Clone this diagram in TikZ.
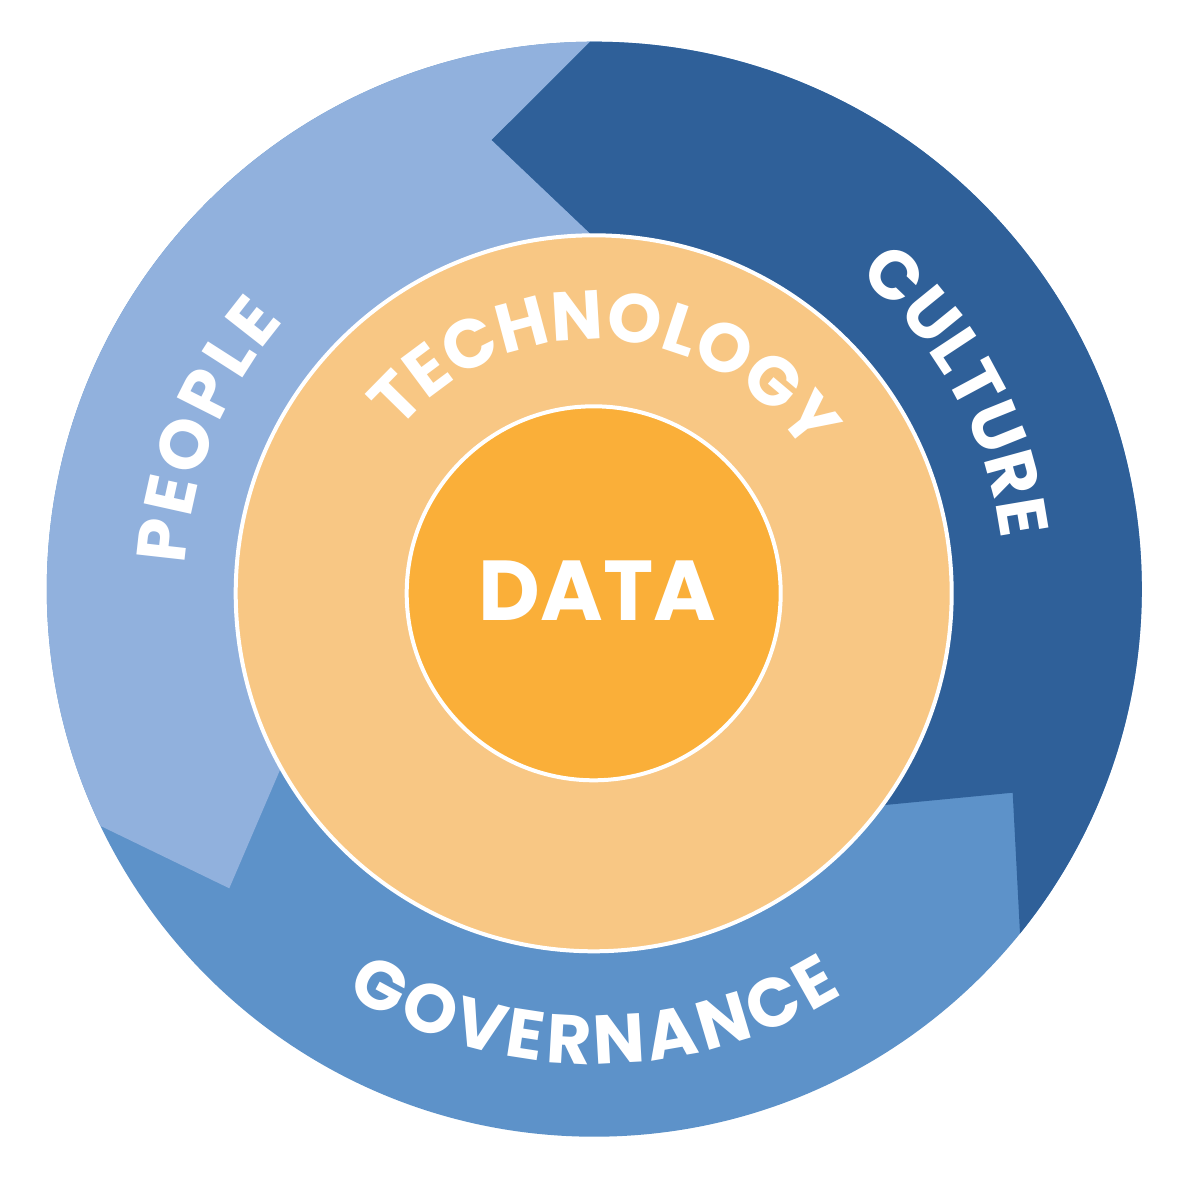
\documentclass[tikz,border=0pt]{standalone}
\usepackage{fontspec}
\usepackage{xcolor}
\usetikzlibrary{decorations.text}

\newfontfamily\popbold{Poppins Bold}
\newcommand{\ringfont}{\popbold\fontsize{69}{69}\selectfont}
\newcommand{\datafont}{\popbold\fontsize{85}{85}\selectfont}

\definecolor{peopleblue}{RGB}{145,177,221}
\definecolor{cultureblue}{RGB}{47,96,153}
\definecolor{govblue}{RGB}{93,146,201}
\definecolor{techorange}{RGB}{248,199,132}
\definecolor{dataorange}{RGB}{250,175,57}

\tikzset{
  ringtext/.style={decorate, decoration={text along path, text align={fit to path},
    text color=white, text={|\ringfont|#1}}},
  disc/.style={circle, draw=white, line width=4pt, inner sep=0pt}
}

\begin{document}
\begin{tikzpicture}[x=1pt,y=1pt]
  \fill[white] (-594.3,-589.8) rectangle (583.7,589.2);
  \useasboundingbox (-594.3,-589.8) rectangle (583.7,589.2);

  \coordinate (ring) at (0,0);
  % arrow tips of the outer ring
  \coordinate (toptip) at (-102.6,449.2);
  \coordinate (lefttip) at (-365,-299.1);
  \coordinate (righttip) at (418.4,-203.5);

  % governance underneath, people and culture on top
  \fill[govblue] (ring) circle (547.5);
  \begin{scope}
    \clip (ring) circle (547.5);
    \fill[peopleblue] (toptip) -- (94.6,645.8) -- (-650,645.8) -- (-650,-174.5) -- (-622.2,-174.5)
      -- (lefttip) -- (-289,-121.7) -- (25.2,327.9) -- cycle;
    \fill[cultureblue] (toptip) -- (94.6,645.8) -- (650,645.8) -- (650,-484.7) -- (433,-484.7)
      -- (righttip) -- (252.4,-219.5) -- (25.2,327.9) -- cycle;
  \end{scope}

  \node[disc, fill=techorange, minimum size=716pt] (tech) at (-0.6,-4.1) {};
  \node[disc, fill=dataorange, minimum size=374pt] (data) at (tech.center) {};
  \node[text=white, font=\datafont, inner sep=0pt] (datalabel) at (3.2,-1.7) {DATA};

  % curved labels
  \path[ringtext=TECHNOLOGY] (tech.center) ++(140.1:254) arc[start angle=140.1, end angle=36.7, radius=254];
  \path[ringtext=PEOPLE] (ring) ++(176.6:410) arc[start angle=176.6, end angle=139.3, radius=410];
  \path[ringtext=CULTURE] (ring) ++(49.9:410) arc[start angle=49.9, end angle=7.0, radius=410];
  \path[ringtext=GOVERNANCE] (ring) ++(238.5:475) arc[start angle=238.5, end angle=301.6, radius=475];
\end{tikzpicture}
\end{document}
